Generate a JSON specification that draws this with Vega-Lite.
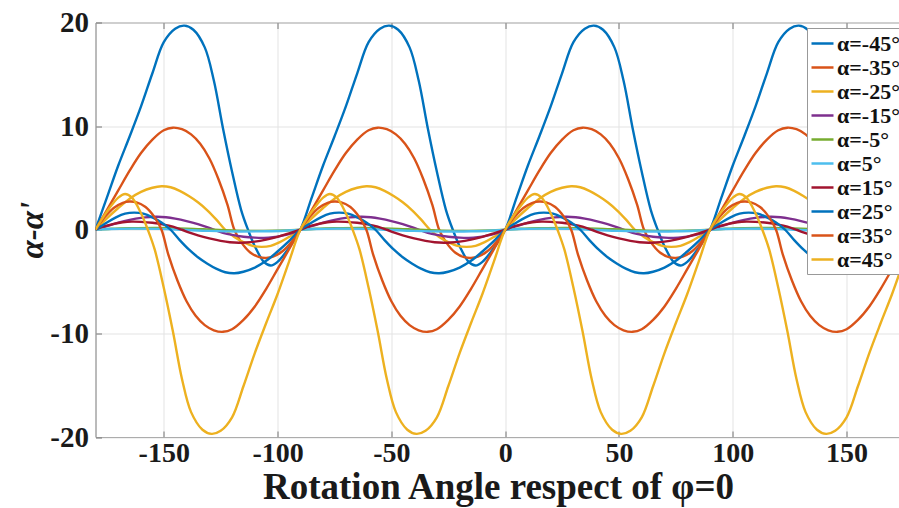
{
"$schema":"https://vega.github.io/schema/vega-lite/v6.json",
"width":805,"height":414.5,
"autosize":{"type":"none"},
"padding":{"left":95.5,"top":22.5,"right":0,"bottom":71},
"background":"white",
"config":{"view":{"stroke":"#777","strokeWidth":1},"font":"Liberation Serif"},
"data":{"values":[
{"a":-45,"x":-180,"y":0},{"a":-45,"x":-175,"y":3.1},{"a":-45,"x":-170,"y":6.2},{"a":-45,"x":-165,"y":9.0},{"a":-45,"x":-160,"y":11.9},{"a":-45,"x":-155,"y":15.1},{"a":-45,"x":-150,"y":18.1},{"a":-45,"x":-145,"y":19.4},{"a":-45,"x":-141,"y":19.7},{"a":-45,"x":-137,"y":19.3},{"a":-45,"x":-132,"y":17.6},{"a":-45,"x":-128,"y":14.4},{"a":-45,"x":-124,"y":9.8},{"a":-45,"x":-120,"y":5.6},{"a":-45,"x":-116,"y":1.9},{"a":-45,"x":-113,"y":0},{"a":-45,"x":-110,"y":-1.6},{"a":-45,"x":-106,"y":-3.1},{"a":-45,"x":-103,"y":-3.45},{"a":-45,"x":-100,"y":-3.1},{"a":-45,"x":-95,"y":-1.75},
{"a":-45,"x":-90,"y":0},{"a":-45,"x":-85,"y":3.1},{"a":-45,"x":-80,"y":6.2},{"a":-45,"x":-75,"y":9.0},{"a":-45,"x":-70,"y":11.9},{"a":-45,"x":-65,"y":15.1},{"a":-45,"x":-60,"y":18.1},{"a":-45,"x":-55,"y":19.4},{"a":-45,"x":-51,"y":19.7},{"a":-45,"x":-47,"y":19.3},{"a":-45,"x":-42,"y":17.6},{"a":-45,"x":-38,"y":14.4},{"a":-45,"x":-34,"y":9.8},{"a":-45,"x":-30,"y":5.6},{"a":-45,"x":-26,"y":1.9},{"a":-45,"x":-23,"y":0},{"a":-45,"x":-20,"y":-1.6},{"a":-45,"x":-16,"y":-3.1},{"a":-45,"x":-13,"y":-3.45},{"a":-45,"x":-10,"y":-3.1},{"a":-45,"x":-5,"y":-1.75},
{"a":-45,"x":0,"y":0},{"a":-45,"x":5,"y":3.1},{"a":-45,"x":10,"y":6.2},{"a":-45,"x":15,"y":9.0},{"a":-45,"x":20,"y":11.9},{"a":-45,"x":25,"y":15.1},{"a":-45,"x":30,"y":18.1},{"a":-45,"x":35,"y":19.4},{"a":-45,"x":39,"y":19.7},{"a":-45,"x":43,"y":19.3},{"a":-45,"x":48,"y":17.6},{"a":-45,"x":52,"y":14.4},{"a":-45,"x":56,"y":9.8},{"a":-45,"x":60,"y":5.6},{"a":-45,"x":64,"y":1.9},{"a":-45,"x":67,"y":0},{"a":-45,"x":70,"y":-1.6},{"a":-45,"x":74,"y":-3.1},{"a":-45,"x":77,"y":-3.45},{"a":-45,"x":80,"y":-3.1},{"a":-45,"x":85,"y":-1.75},
{"a":-45,"x":90,"y":0},{"a":-45,"x":95,"y":3.1},{"a":-45,"x":100,"y":6.2},{"a":-45,"x":105,"y":9.0},{"a":-45,"x":110,"y":11.9},{"a":-45,"x":115,"y":15.1},{"a":-45,"x":120,"y":18.1},{"a":-45,"x":125,"y":19.4},{"a":-45,"x":129,"y":19.7},{"a":-45,"x":133,"y":19.3},{"a":-45,"x":138,"y":17.6},{"a":-45,"x":142,"y":14.4},{"a":-45,"x":146,"y":9.8},{"a":-45,"x":150,"y":5.6},{"a":-45,"x":154,"y":1.9},{"a":-45,"x":157,"y":0},{"a":-45,"x":160,"y":-1.6},{"a":-45,"x":164,"y":-3.1},{"a":-45,"x":167,"y":-3.45},{"a":-45,"x":170,"y":-3.1},{"a":-45,"x":175,"y":-1.75},{"a":-45,"x":180,"y":0},

{"a":-35,"x":-180,"y":0},{"a":-35,"x":-175,"y":1.9},{"a":-35,"x":-170,"y":3.8},{"a":-35,"x":-165,"y":5.7},{"a":-35,"x":-160,"y":7.4},{"a":-35,"x":-155,"y":8.7},{"a":-35,"x":-150,"y":9.6},{"a":-35,"x":-146,"y":9.85},{"a":-35,"x":-142,"y":9.7},{"a":-35,"x":-138,"y":9.2},{"a":-35,"x":-134,"y":8.3},{"a":-35,"x":-130,"y":6.9},{"a":-35,"x":-126,"y":4.9},{"a":-35,"x":-122,"y":2.4},{"a":-35,"x":-119,"y":0},{"a":-35,"x":-116,"y":-1.2},{"a":-35,"x":-112,"y":-2.2},{"a":-35,"x":-108,"y":-2.65},{"a":-35,"x":-105,"y":-2.72},{"a":-35,"x":-102,"y":-2.6},{"a":-35,"x":-98,"y":-2.1},{"a":-35,"x":-94,"y":-1.2},
{"a":-35,"x":-90,"y":0},{"a":-35,"x":-85,"y":1.9},{"a":-35,"x":-80,"y":3.8},{"a":-35,"x":-75,"y":5.7},{"a":-35,"x":-70,"y":7.4},{"a":-35,"x":-65,"y":8.7},{"a":-35,"x":-60,"y":9.6},{"a":-35,"x":-56,"y":9.85},{"a":-35,"x":-52,"y":9.7},{"a":-35,"x":-48,"y":9.2},{"a":-35,"x":-44,"y":8.3},{"a":-35,"x":-40,"y":6.9},{"a":-35,"x":-36,"y":4.9},{"a":-35,"x":-32,"y":2.4},{"a":-35,"x":-29,"y":0},{"a":-35,"x":-26,"y":-1.2},{"a":-35,"x":-22,"y":-2.2},{"a":-35,"x":-18,"y":-2.65},{"a":-35,"x":-15,"y":-2.72},{"a":-35,"x":-12,"y":-2.6},{"a":-35,"x":-8,"y":-2.1},{"a":-35,"x":-4,"y":-1.2},
{"a":-35,"x":0,"y":0},{"a":-35,"x":5,"y":1.9},{"a":-35,"x":10,"y":3.8},{"a":-35,"x":15,"y":5.7},{"a":-35,"x":20,"y":7.4},{"a":-35,"x":25,"y":8.7},{"a":-35,"x":30,"y":9.6},{"a":-35,"x":34,"y":9.85},{"a":-35,"x":38,"y":9.7},{"a":-35,"x":42,"y":9.2},{"a":-35,"x":46,"y":8.3},{"a":-35,"x":50,"y":6.9},{"a":-35,"x":54,"y":4.9},{"a":-35,"x":58,"y":2.4},{"a":-35,"x":61,"y":0},{"a":-35,"x":64,"y":-1.2},{"a":-35,"x":68,"y":-2.2},{"a":-35,"x":72,"y":-2.65},{"a":-35,"x":75,"y":-2.72},{"a":-35,"x":78,"y":-2.6},{"a":-35,"x":82,"y":-2.1},{"a":-35,"x":86,"y":-1.2},
{"a":-35,"x":90,"y":0},{"a":-35,"x":95,"y":1.9},{"a":-35,"x":100,"y":3.8},{"a":-35,"x":105,"y":5.7},{"a":-35,"x":110,"y":7.4},{"a":-35,"x":115,"y":8.7},{"a":-35,"x":120,"y":9.6},{"a":-35,"x":124,"y":9.85},{"a":-35,"x":128,"y":9.7},{"a":-35,"x":132,"y":9.2},{"a":-35,"x":136,"y":8.3},{"a":-35,"x":140,"y":6.9},{"a":-35,"x":144,"y":4.9},{"a":-35,"x":148,"y":2.4},{"a":-35,"x":151,"y":0},{"a":-35,"x":154,"y":-1.2},{"a":-35,"x":158,"y":-2.2},{"a":-35,"x":162,"y":-2.65},{"a":-35,"x":165,"y":-2.72},{"a":-35,"x":168,"y":-2.6},{"a":-35,"x":172,"y":-2.1},{"a":-35,"x":176,"y":-1.2},{"a":-35,"x":180,"y":0},

{"a":-25,"x":-180,"y":0},{"a":-25,"x":-175,"y":1.1},{"a":-25,"x":-170,"y":2.1},{"a":-25,"x":-165,"y":3.0},{"a":-25,"x":-160,"y":3.65},{"a":-25,"x":-155,"y":4.05},{"a":-25,"x":-151,"y":4.2},{"a":-25,"x":-147,"y":4.1},{"a":-25,"x":-143,"y":3.75},{"a":-25,"x":-139,"y":3.25},{"a":-25,"x":-135,"y":2.65},{"a":-25,"x":-131,"y":1.9},{"a":-25,"x":-127,"y":1.0},{"a":-25,"x":-123,"y":0},{"a":-25,"x":-119,"y":-0.7},{"a":-25,"x":-115,"y":-1.2},{"a":-25,"x":-111,"y":-1.55},{"a":-25,"x":-107,"y":-1.65},{"a":-25,"x":-103,"y":-1.55},{"a":-25,"x":-99,"y":-1.2},{"a":-25,"x":-95,"y":-0.7},
{"a":-25,"x":-90,"y":0},{"a":-25,"x":-85,"y":1.1},{"a":-25,"x":-80,"y":2.1},{"a":-25,"x":-75,"y":3.0},{"a":-25,"x":-70,"y":3.65},{"a":-25,"x":-65,"y":4.05},{"a":-25,"x":-61,"y":4.2},{"a":-25,"x":-57,"y":4.1},{"a":-25,"x":-53,"y":3.75},{"a":-25,"x":-49,"y":3.25},{"a":-25,"x":-45,"y":2.65},{"a":-25,"x":-41,"y":1.9},{"a":-25,"x":-37,"y":1.0},{"a":-25,"x":-33,"y":0},{"a":-25,"x":-29,"y":-0.7},{"a":-25,"x":-25,"y":-1.2},{"a":-25,"x":-21,"y":-1.55},{"a":-25,"x":-17,"y":-1.65},{"a":-25,"x":-13,"y":-1.55},{"a":-25,"x":-9,"y":-1.2},{"a":-25,"x":-5,"y":-0.7},
{"a":-25,"x":0,"y":0},{"a":-25,"x":5,"y":1.1},{"a":-25,"x":10,"y":2.1},{"a":-25,"x":15,"y":3.0},{"a":-25,"x":20,"y":3.65},{"a":-25,"x":25,"y":4.05},{"a":-25,"x":29,"y":4.2},{"a":-25,"x":33,"y":4.1},{"a":-25,"x":37,"y":3.75},{"a":-25,"x":41,"y":3.25},{"a":-25,"x":45,"y":2.65},{"a":-25,"x":49,"y":1.9},{"a":-25,"x":53,"y":1.0},{"a":-25,"x":57,"y":0},{"a":-25,"x":61,"y":-0.7},{"a":-25,"x":65,"y":-1.2},{"a":-25,"x":69,"y":-1.55},{"a":-25,"x":73,"y":-1.65},{"a":-25,"x":77,"y":-1.55},{"a":-25,"x":81,"y":-1.2},{"a":-25,"x":85,"y":-0.7},
{"a":-25,"x":90,"y":0},{"a":-25,"x":95,"y":1.1},{"a":-25,"x":100,"y":2.1},{"a":-25,"x":105,"y":3.0},{"a":-25,"x":110,"y":3.65},{"a":-25,"x":115,"y":4.05},{"a":-25,"x":119,"y":4.2},{"a":-25,"x":123,"y":4.1},{"a":-25,"x":127,"y":3.75},{"a":-25,"x":131,"y":3.25},{"a":-25,"x":135,"y":2.65},{"a":-25,"x":139,"y":1.9},{"a":-25,"x":143,"y":1.0},{"a":-25,"x":147,"y":0},{"a":-25,"x":151,"y":-0.7},{"a":-25,"x":155,"y":-1.2},{"a":-25,"x":159,"y":-1.55},{"a":-25,"x":163,"y":-1.65},{"a":-25,"x":167,"y":-1.55},{"a":-25,"x":171,"y":-1.2},{"a":-25,"x":175,"y":-0.7},{"a":-25,"x":180,"y":0},

{"a":-15,"x":-180,"y":0},{"a":-15,"x":-175,"y":0.35},{"a":-15,"x":-170,"y":0.68},{"a":-15,"x":-165,"y":0.95},{"a":-15,"x":-160,"y":1.15},{"a":-15,"x":-156,"y":1.23},{"a":-15,"x":-153,"y":1.25},{"a":-15,"x":-149,"y":1.2},{"a":-15,"x":-145,"y":1.07},{"a":-15,"x":-140,"y":0.84},{"a":-15,"x":-135,"y":0.55},{"a":-15,"x":-131,"y":0.26},{"a":-15,"x":-128,"y":0},{"a":-15,"x":-124,"y":-0.3},{"a":-15,"x":-120,"y":-0.5},{"a":-15,"x":-115,"y":-0.67},{"a":-15,"x":-110,"y":-0.76},{"a":-15,"x":-106,"y":-0.78},{"a":-15,"x":-102,"y":-0.72},{"a":-15,"x":-98,"y":-0.57},{"a":-15,"x":-94,"y":-0.34},
{"a":-15,"x":-90,"y":0},{"a":-15,"x":-85,"y":0.35},{"a":-15,"x":-80,"y":0.68},{"a":-15,"x":-75,"y":0.95},{"a":-15,"x":-70,"y":1.15},{"a":-15,"x":-66,"y":1.23},{"a":-15,"x":-63,"y":1.25},{"a":-15,"x":-59,"y":1.2},{"a":-15,"x":-55,"y":1.07},{"a":-15,"x":-50,"y":0.84},{"a":-15,"x":-45,"y":0.55},{"a":-15,"x":-41,"y":0.26},{"a":-15,"x":-38,"y":0},{"a":-15,"x":-34,"y":-0.3},{"a":-15,"x":-30,"y":-0.5},{"a":-15,"x":-25,"y":-0.67},{"a":-15,"x":-20,"y":-0.76},{"a":-15,"x":-16,"y":-0.78},{"a":-15,"x":-12,"y":-0.72},{"a":-15,"x":-8,"y":-0.57},{"a":-15,"x":-4,"y":-0.34},
{"a":-15,"x":0,"y":0},{"a":-15,"x":5,"y":0.35},{"a":-15,"x":10,"y":0.68},{"a":-15,"x":15,"y":0.95},{"a":-15,"x":20,"y":1.15},{"a":-15,"x":24,"y":1.23},{"a":-15,"x":27,"y":1.25},{"a":-15,"x":31,"y":1.2},{"a":-15,"x":35,"y":1.07},{"a":-15,"x":40,"y":0.84},{"a":-15,"x":45,"y":0.55},{"a":-15,"x":49,"y":0.26},{"a":-15,"x":52,"y":0},{"a":-15,"x":56,"y":-0.3},{"a":-15,"x":60,"y":-0.5},{"a":-15,"x":65,"y":-0.67},{"a":-15,"x":70,"y":-0.76},{"a":-15,"x":74,"y":-0.78},{"a":-15,"x":78,"y":-0.72},{"a":-15,"x":82,"y":-0.57},{"a":-15,"x":86,"y":-0.34},
{"a":-15,"x":90,"y":0},{"a":-15,"x":95,"y":0.35},{"a":-15,"x":100,"y":0.68},{"a":-15,"x":105,"y":0.95},{"a":-15,"x":110,"y":1.15},{"a":-15,"x":114,"y":1.23},{"a":-15,"x":117,"y":1.25},{"a":-15,"x":121,"y":1.2},{"a":-15,"x":125,"y":1.07},{"a":-15,"x":130,"y":0.84},{"a":-15,"x":135,"y":0.55},{"a":-15,"x":139,"y":0.26},{"a":-15,"x":142,"y":0},{"a":-15,"x":146,"y":-0.3},{"a":-15,"x":150,"y":-0.5},{"a":-15,"x":155,"y":-0.67},{"a":-15,"x":160,"y":-0.76},{"a":-15,"x":164,"y":-0.78},{"a":-15,"x":168,"y":-0.72},{"a":-15,"x":172,"y":-0.57},{"a":-15,"x":176,"y":-0.34},{"a":-15,"x":180,"y":0},

{"a":-5,"x":-180,"y":0},{"a":-5,"x":-173,"y":0.09},{"a":-5,"x":-165,"y":0.14},{"a":-5,"x":-153,"y":0.17},{"a":-5,"x":-140,"y":0.11},{"a":-5,"x":-128,"y":0},{"a":-5,"x":-118,"y":-0.08},{"a":-5,"x":-106,"y":-0.11},{"a":-5,"x":-96,"y":-0.07},
{"a":-5,"x":-90,"y":0},{"a":-5,"x":-83,"y":0.09},{"a":-5,"x":-75,"y":0.14},{"a":-5,"x":-63,"y":0.17},{"a":-5,"x":-50,"y":0.11},{"a":-5,"x":-38,"y":0},{"a":-5,"x":-28,"y":-0.08},{"a":-5,"x":-16,"y":-0.11},{"a":-5,"x":-6,"y":-0.07},
{"a":-5,"x":0,"y":0},{"a":-5,"x":7,"y":0.09},{"a":-5,"x":15,"y":0.14},{"a":-5,"x":27,"y":0.17},{"a":-5,"x":40,"y":0.11},{"a":-5,"x":52,"y":0},{"a":-5,"x":62,"y":-0.08},{"a":-5,"x":74,"y":-0.11},{"a":-5,"x":84,"y":-0.07},
{"a":-5,"x":90,"y":0},{"a":-5,"x":97,"y":0.09},{"a":-5,"x":105,"y":0.14},{"a":-5,"x":117,"y":0.17},{"a":-5,"x":130,"y":0.11},{"a":-5,"x":142,"y":0},{"a":-5,"x":152,"y":-0.08},{"a":-5,"x":164,"y":-0.11},{"a":-5,"x":174,"y":-0.07},{"a":-5,"x":180,"y":0},

{"a":5,"x":-180,"y":0},{"a":5,"x":-174,"y":0.07},{"a":5,"x":-164,"y":0.11},{"a":5,"x":-152,"y":0.08},{"a":5,"x":-142,"y":0},{"a":5,"x":-130,"y":-0.11},{"a":5,"x":-117,"y":-0.17},{"a":5,"x":-105,"y":-0.14},{"a":5,"x":-97,"y":-0.09},
{"a":5,"x":-90,"y":0},{"a":5,"x":-84,"y":0.07},{"a":5,"x":-74,"y":0.11},{"a":5,"x":-62,"y":0.08},{"a":5,"x":-52,"y":0},{"a":5,"x":-40,"y":-0.11},{"a":5,"x":-27,"y":-0.17},{"a":5,"x":-15,"y":-0.14},{"a":5,"x":-7,"y":-0.09},
{"a":5,"x":0,"y":0},{"a":5,"x":6,"y":0.07},{"a":5,"x":16,"y":0.11},{"a":5,"x":28,"y":0.08},{"a":5,"x":38,"y":0},{"a":5,"x":50,"y":-0.11},{"a":5,"x":63,"y":-0.17},{"a":5,"x":75,"y":-0.14},{"a":5,"x":83,"y":-0.09},
{"a":5,"x":90,"y":0},{"a":5,"x":96,"y":0.07},{"a":5,"x":106,"y":0.11},{"a":5,"x":118,"y":0.08},{"a":5,"x":128,"y":0},{"a":5,"x":140,"y":-0.11},{"a":5,"x":153,"y":-0.17},{"a":5,"x":165,"y":-0.14},{"a":5,"x":173,"y":-0.09},{"a":5,"x":180,"y":0},

{"a":15,"x":-180,"y":0},{"a":15,"x":-176,"y":0.34},{"a":15,"x":-172,"y":0.57},{"a":15,"x":-168,"y":0.72},{"a":15,"x":-164,"y":0.78},{"a":15,"x":-160,"y":0.76},{"a":15,"x":-155,"y":0.67},{"a":15,"x":-150,"y":0.5},{"a":15,"x":-146,"y":0.3},{"a":15,"x":-142,"y":0},{"a":15,"x":-139,"y":-0.26},{"a":15,"x":-135,"y":-0.55},{"a":15,"x":-130,"y":-0.84},{"a":15,"x":-125,"y":-1.07},{"a":15,"x":-121,"y":-1.2},{"a":15,"x":-117,"y":-1.25},{"a":15,"x":-114,"y":-1.23},{"a":15,"x":-110,"y":-1.15},{"a":15,"x":-105,"y":-0.95},{"a":15,"x":-100,"y":-0.68},{"a":15,"x":-95,"y":-0.35},
{"a":15,"x":-90,"y":0},{"a":15,"x":-86,"y":0.34},{"a":15,"x":-82,"y":0.57},{"a":15,"x":-78,"y":0.72},{"a":15,"x":-74,"y":0.78},{"a":15,"x":-70,"y":0.76},{"a":15,"x":-65,"y":0.67},{"a":15,"x":-60,"y":0.5},{"a":15,"x":-56,"y":0.3},{"a":15,"x":-52,"y":0},{"a":15,"x":-49,"y":-0.26},{"a":15,"x":-45,"y":-0.55},{"a":15,"x":-40,"y":-0.84},{"a":15,"x":-35,"y":-1.07},{"a":15,"x":-31,"y":-1.2},{"a":15,"x":-27,"y":-1.25},{"a":15,"x":-24,"y":-1.23},{"a":15,"x":-20,"y":-1.15},{"a":15,"x":-15,"y":-0.95},{"a":15,"x":-10,"y":-0.68},{"a":15,"x":-5,"y":-0.35},
{"a":15,"x":0,"y":0},{"a":15,"x":4,"y":0.34},{"a":15,"x":8,"y":0.57},{"a":15,"x":12,"y":0.72},{"a":15,"x":16,"y":0.78},{"a":15,"x":20,"y":0.76},{"a":15,"x":25,"y":0.67},{"a":15,"x":30,"y":0.5},{"a":15,"x":34,"y":0.3},{"a":15,"x":38,"y":0},{"a":15,"x":41,"y":-0.26},{"a":15,"x":45,"y":-0.55},{"a":15,"x":50,"y":-0.84},{"a":15,"x":55,"y":-1.07},{"a":15,"x":59,"y":-1.2},{"a":15,"x":63,"y":-1.25},{"a":15,"x":66,"y":-1.23},{"a":15,"x":70,"y":-1.15},{"a":15,"x":75,"y":-0.95},{"a":15,"x":80,"y":-0.68},{"a":15,"x":85,"y":-0.35},
{"a":15,"x":90,"y":0},{"a":15,"x":94,"y":0.34},{"a":15,"x":98,"y":0.57},{"a":15,"x":102,"y":0.72},{"a":15,"x":106,"y":0.78},{"a":15,"x":110,"y":0.76},{"a":15,"x":115,"y":0.67},{"a":15,"x":120,"y":0.5},{"a":15,"x":124,"y":0.3},{"a":15,"x":128,"y":0},{"a":15,"x":131,"y":-0.26},{"a":15,"x":135,"y":-0.55},{"a":15,"x":140,"y":-0.84},{"a":15,"x":145,"y":-1.07},{"a":15,"x":149,"y":-1.2},{"a":15,"x":153,"y":-1.25},{"a":15,"x":156,"y":-1.23},{"a":15,"x":160,"y":-1.15},{"a":15,"x":165,"y":-0.95},{"a":15,"x":170,"y":-0.68},{"a":15,"x":175,"y":-0.35},{"a":15,"x":180,"y":0},

{"a":25,"x":-180,"y":0},{"a":25,"x":-175,"y":0.7},{"a":25,"x":-171,"y":1.2},{"a":25,"x":-167,"y":1.55},{"a":25,"x":-163,"y":1.65},{"a":25,"x":-159,"y":1.55},{"a":25,"x":-155,"y":1.2},{"a":25,"x":-151,"y":0.7},{"a":25,"x":-147,"y":0},{"a":25,"x":-143,"y":-1.0},{"a":25,"x":-139,"y":-1.9},{"a":25,"x":-135,"y":-2.65},{"a":25,"x":-131,"y":-3.25},{"a":25,"x":-127,"y":-3.75},{"a":25,"x":-123,"y":-4.1},{"a":25,"x":-119,"y":-4.2},{"a":25,"x":-115,"y":-4.05},{"a":25,"x":-110,"y":-3.65},{"a":25,"x":-105,"y":-3.0},{"a":25,"x":-100,"y":-2.1},{"a":25,"x":-95,"y":-1.1},
{"a":25,"x":-90,"y":0},{"a":25,"x":-85,"y":0.7},{"a":25,"x":-81,"y":1.2},{"a":25,"x":-77,"y":1.55},{"a":25,"x":-73,"y":1.65},{"a":25,"x":-69,"y":1.55},{"a":25,"x":-65,"y":1.2},{"a":25,"x":-61,"y":0.7},{"a":25,"x":-57,"y":0},{"a":25,"x":-53,"y":-1.0},{"a":25,"x":-49,"y":-1.9},{"a":25,"x":-45,"y":-2.65},{"a":25,"x":-41,"y":-3.25},{"a":25,"x":-37,"y":-3.75},{"a":25,"x":-33,"y":-4.1},{"a":25,"x":-29,"y":-4.2},{"a":25,"x":-25,"y":-4.05},{"a":25,"x":-20,"y":-3.65},{"a":25,"x":-15,"y":-3.0},{"a":25,"x":-10,"y":-2.1},{"a":25,"x":-5,"y":-1.1},
{"a":25,"x":0,"y":0},{"a":25,"x":5,"y":0.7},{"a":25,"x":9,"y":1.2},{"a":25,"x":13,"y":1.55},{"a":25,"x":17,"y":1.65},{"a":25,"x":21,"y":1.55},{"a":25,"x":25,"y":1.2},{"a":25,"x":29,"y":0.7},{"a":25,"x":33,"y":0},{"a":25,"x":37,"y":-1.0},{"a":25,"x":41,"y":-1.9},{"a":25,"x":45,"y":-2.65},{"a":25,"x":49,"y":-3.25},{"a":25,"x":53,"y":-3.75},{"a":25,"x":57,"y":-4.1},{"a":25,"x":61,"y":-4.2},{"a":25,"x":65,"y":-4.05},{"a":25,"x":70,"y":-3.65},{"a":25,"x":75,"y":-3.0},{"a":25,"x":80,"y":-2.1},{"a":25,"x":85,"y":-1.1},
{"a":25,"x":90,"y":0},{"a":25,"x":95,"y":0.7},{"a":25,"x":99,"y":1.2},{"a":25,"x":103,"y":1.55},{"a":25,"x":107,"y":1.65},{"a":25,"x":111,"y":1.55},{"a":25,"x":115,"y":1.2},{"a":25,"x":119,"y":0.7},{"a":25,"x":123,"y":0},{"a":25,"x":127,"y":-1.0},{"a":25,"x":131,"y":-1.9},{"a":25,"x":135,"y":-2.65},{"a":25,"x":139,"y":-3.25},{"a":25,"x":143,"y":-3.75},{"a":25,"x":147,"y":-4.1},{"a":25,"x":151,"y":-4.2},{"a":25,"x":155,"y":-4.05},{"a":25,"x":160,"y":-3.65},{"a":25,"x":165,"y":-3.0},{"a":25,"x":170,"y":-2.1},{"a":25,"x":175,"y":-1.1},{"a":25,"x":180,"y":0},

{"a":35,"x":-180,"y":0},{"a":35,"x":-176,"y":1.2},{"a":35,"x":-172,"y":2.1},{"a":35,"x":-168,"y":2.6},{"a":35,"x":-165,"y":2.72},{"a":35,"x":-162,"y":2.65},{"a":35,"x":-158,"y":2.2},{"a":35,"x":-154,"y":1.2},{"a":35,"x":-151,"y":0},{"a":35,"x":-148,"y":-2.4},{"a":35,"x":-144,"y":-4.9},{"a":35,"x":-140,"y":-6.9},{"a":35,"x":-136,"y":-8.3},{"a":35,"x":-132,"y":-9.2},{"a":35,"x":-128,"y":-9.7},{"a":35,"x":-124,"y":-9.85},{"a":35,"x":-120,"y":-9.6},{"a":35,"x":-115,"y":-8.7},{"a":35,"x":-110,"y":-7.4},{"a":35,"x":-105,"y":-5.7},{"a":35,"x":-100,"y":-3.8},{"a":35,"x":-95,"y":-1.9},
{"a":35,"x":-90,"y":0},{"a":35,"x":-86,"y":1.2},{"a":35,"x":-82,"y":2.1},{"a":35,"x":-78,"y":2.6},{"a":35,"x":-75,"y":2.72},{"a":35,"x":-72,"y":2.65},{"a":35,"x":-68,"y":2.2},{"a":35,"x":-64,"y":1.2},{"a":35,"x":-61,"y":0},{"a":35,"x":-58,"y":-2.4},{"a":35,"x":-54,"y":-4.9},{"a":35,"x":-50,"y":-6.9},{"a":35,"x":-46,"y":-8.3},{"a":35,"x":-42,"y":-9.2},{"a":35,"x":-38,"y":-9.7},{"a":35,"x":-34,"y":-9.85},{"a":35,"x":-30,"y":-9.6},{"a":35,"x":-25,"y":-8.7},{"a":35,"x":-20,"y":-7.4},{"a":35,"x":-15,"y":-5.7},{"a":35,"x":-10,"y":-3.8},{"a":35,"x":-5,"y":-1.9},
{"a":35,"x":0,"y":0},{"a":35,"x":4,"y":1.2},{"a":35,"x":8,"y":2.1},{"a":35,"x":12,"y":2.6},{"a":35,"x":15,"y":2.72},{"a":35,"x":18,"y":2.65},{"a":35,"x":22,"y":2.2},{"a":35,"x":26,"y":1.2},{"a":35,"x":29,"y":0},{"a":35,"x":32,"y":-2.4},{"a":35,"x":36,"y":-4.9},{"a":35,"x":40,"y":-6.9},{"a":35,"x":44,"y":-8.3},{"a":35,"x":48,"y":-9.2},{"a":35,"x":52,"y":-9.7},{"a":35,"x":56,"y":-9.85},{"a":35,"x":60,"y":-9.6},{"a":35,"x":65,"y":-8.7},{"a":35,"x":70,"y":-7.4},{"a":35,"x":75,"y":-5.7},{"a":35,"x":80,"y":-3.8},{"a":35,"x":85,"y":-1.9},
{"a":35,"x":90,"y":0},{"a":35,"x":94,"y":1.2},{"a":35,"x":98,"y":2.1},{"a":35,"x":102,"y":2.6},{"a":35,"x":105,"y":2.72},{"a":35,"x":108,"y":2.65},{"a":35,"x":112,"y":2.2},{"a":35,"x":116,"y":1.2},{"a":35,"x":119,"y":0},{"a":35,"x":122,"y":-2.4},{"a":35,"x":126,"y":-4.9},{"a":35,"x":130,"y":-6.9},{"a":35,"x":134,"y":-8.3},{"a":35,"x":138,"y":-9.2},{"a":35,"x":142,"y":-9.7},{"a":35,"x":146,"y":-9.85},{"a":35,"x":150,"y":-9.6},{"a":35,"x":155,"y":-8.7},{"a":35,"x":160,"y":-7.4},{"a":35,"x":165,"y":-5.7},{"a":35,"x":170,"y":-3.8},{"a":35,"x":175,"y":-1.9},{"a":35,"x":180,"y":0},

{"a":45,"x":-180,"y":0},{"a":45,"x":-175,"y":1.75},{"a":45,"x":-170,"y":3.1},{"a":45,"x":-167,"y":3.45},{"a":45,"x":-164,"y":3.1},{"a":45,"x":-160,"y":1.6},{"a":45,"x":-157,"y":0},{"a":45,"x":-154,"y":-1.9},{"a":45,"x":-150,"y":-5.6},{"a":45,"x":-146,"y":-9.8},{"a":45,"x":-142,"y":-14.4},{"a":45,"x":-138,"y":-17.6},{"a":45,"x":-133,"y":-19.3},{"a":45,"x":-129,"y":-19.7},{"a":45,"x":-125,"y":-19.4},{"a":45,"x":-120,"y":-18.1},{"a":45,"x":-115,"y":-15.1},{"a":45,"x":-110,"y":-11.9},{"a":45,"x":-105,"y":-9.0},{"a":45,"x":-100,"y":-6.2},{"a":45,"x":-95,"y":-3.1},
{"a":45,"x":-90,"y":0},{"a":45,"x":-85,"y":1.75},{"a":45,"x":-80,"y":3.1},{"a":45,"x":-77,"y":3.45},{"a":45,"x":-74,"y":3.1},{"a":45,"x":-70,"y":1.6},{"a":45,"x":-67,"y":0},{"a":45,"x":-64,"y":-1.9},{"a":45,"x":-60,"y":-5.6},{"a":45,"x":-56,"y":-9.8},{"a":45,"x":-52,"y":-14.4},{"a":45,"x":-48,"y":-17.6},{"a":45,"x":-43,"y":-19.3},{"a":45,"x":-39,"y":-19.7},{"a":45,"x":-35,"y":-19.4},{"a":45,"x":-30,"y":-18.1},{"a":45,"x":-25,"y":-15.1},{"a":45,"x":-20,"y":-11.9},{"a":45,"x":-15,"y":-9.0},{"a":45,"x":-10,"y":-6.2},{"a":45,"x":-5,"y":-3.1},
{"a":45,"x":0,"y":0},{"a":45,"x":5,"y":1.75},{"a":45,"x":10,"y":3.1},{"a":45,"x":13,"y":3.45},{"a":45,"x":16,"y":3.1},{"a":45,"x":20,"y":1.6},{"a":45,"x":23,"y":0},{"a":45,"x":26,"y":-1.9},{"a":45,"x":30,"y":-5.6},{"a":45,"x":34,"y":-9.8},{"a":45,"x":38,"y":-14.4},{"a":45,"x":42,"y":-17.6},{"a":45,"x":47,"y":-19.3},{"a":45,"x":51,"y":-19.7},{"a":45,"x":55,"y":-19.4},{"a":45,"x":60,"y":-18.1},{"a":45,"x":65,"y":-15.1},{"a":45,"x":70,"y":-11.9},{"a":45,"x":75,"y":-9.0},{"a":45,"x":80,"y":-6.2},{"a":45,"x":85,"y":-3.1},
{"a":45,"x":90,"y":0},{"a":45,"x":95,"y":1.75},{"a":45,"x":100,"y":3.1},{"a":45,"x":103,"y":3.45},{"a":45,"x":106,"y":3.1},{"a":45,"x":110,"y":1.6},{"a":45,"x":113,"y":0},{"a":45,"x":116,"y":-1.9},{"a":45,"x":120,"y":-5.6},{"a":45,"x":124,"y":-9.8},{"a":45,"x":128,"y":-14.4},{"a":45,"x":132,"y":-17.6},{"a":45,"x":137,"y":-19.3},{"a":45,"x":141,"y":-19.7},{"a":45,"x":145,"y":-19.4},{"a":45,"x":150,"y":-18.1},{"a":45,"x":155,"y":-15.1},{"a":45,"x":160,"y":-11.9},{"a":45,"x":165,"y":-9.0},{"a":45,"x":170,"y":-6.2},{"a":45,"x":175,"y":-3.1},{"a":45,"x":180,"y":0}
]},
"resolve":{"axis":{"x":"independent"}},
"layer":[
{"mark":{"type":"line","strokeWidth":2.4,"interpolate":"catmull-rom","clip":true},
 "encoding":{
  "x":{"field":"x","type":"quantitative","scale":{"domain":[-180,173.7],"nice":false,"zero":false},
   "axis":{"orient":"bottom","values":[-150,-100,-50,0,50,100,150],"labelExpr":"'' + datum.value","grid":true,"gridColor":"#e3e3e3","domain":false,"tickSize":-6,"tickColor":"#777","labelPadding":8,"labelFont":"Liberation Serif","labelFontWeight":"bold","labelFontSize":28,"labelColor":"#1a1a1a","title":"Rotation Angle respect of φ=0","titleFont":"Liberation Serif","titleFontSize":37,"titleFontWeight":"bold","titleColor":"#1a1a1a","titlePadding":2}},
  "y":{"field":"y","type":"quantitative","scale":{"domain":[-20,20],"nice":false,"zero":false},
   "axis":{"values":[-20,-10,0,10,20],"labelExpr":"'' + datum.value","grid":true,"gridColor":"#e3e3e3","domain":false,"tickSize":-6,"tickColor":"#777","labelPadding":13,"labelFont":"Liberation Serif","labelFontWeight":"bold","labelFontSize":29,"labelColor":"#1a1a1a","title":"α-α'","titleFont":"Liberation Serif","titleFontSize":33,"titleFontWeight":"bold","titleFontStyle":"italic","titleColor":"#1a1a1a","titlePadding":0}},
  "color":{"field":"a","type":"nominal","scale":{"domain":[-45,-35,-25,-15,-5,5,15,25,35,45],"range":["#0072BD","#D95319","#EDB120","#7E2F8E","#77AC30","#4DBEEE","#A2142F","#0072BD","#D95319","#EDB120"]},
   "legend":{"orient":"none","legendX":711.5,"legendY":5.5,"title":null,"symbolType":"stroke","symbolSize":484,"symbolStrokeWidth":2.5,"labelFont":"Liberation Serif","labelFontWeight":"bold","labelFontSize":22,"labelColor":"#111","labelExpr":"'α=' + datum.value + '°'","labelOffset":2,"rowPadding":0,"padding":3,"strokeColor":"#999","fillColor":"white","labelLimit":300}}
 }},
{"data":{"values":[{"x":0}]},
 "mark":{"type":"rule","opacity":0},
 "encoding":{"x":{"field":"x","type":"quantitative","axis":{"orient":"top","values":[-150,-100,-50,0,50,100,150],"labels":false,"title":null,"grid":false,"domain":false,"tickSize":-6,"tickColor":"#777"}}}}
]
}
